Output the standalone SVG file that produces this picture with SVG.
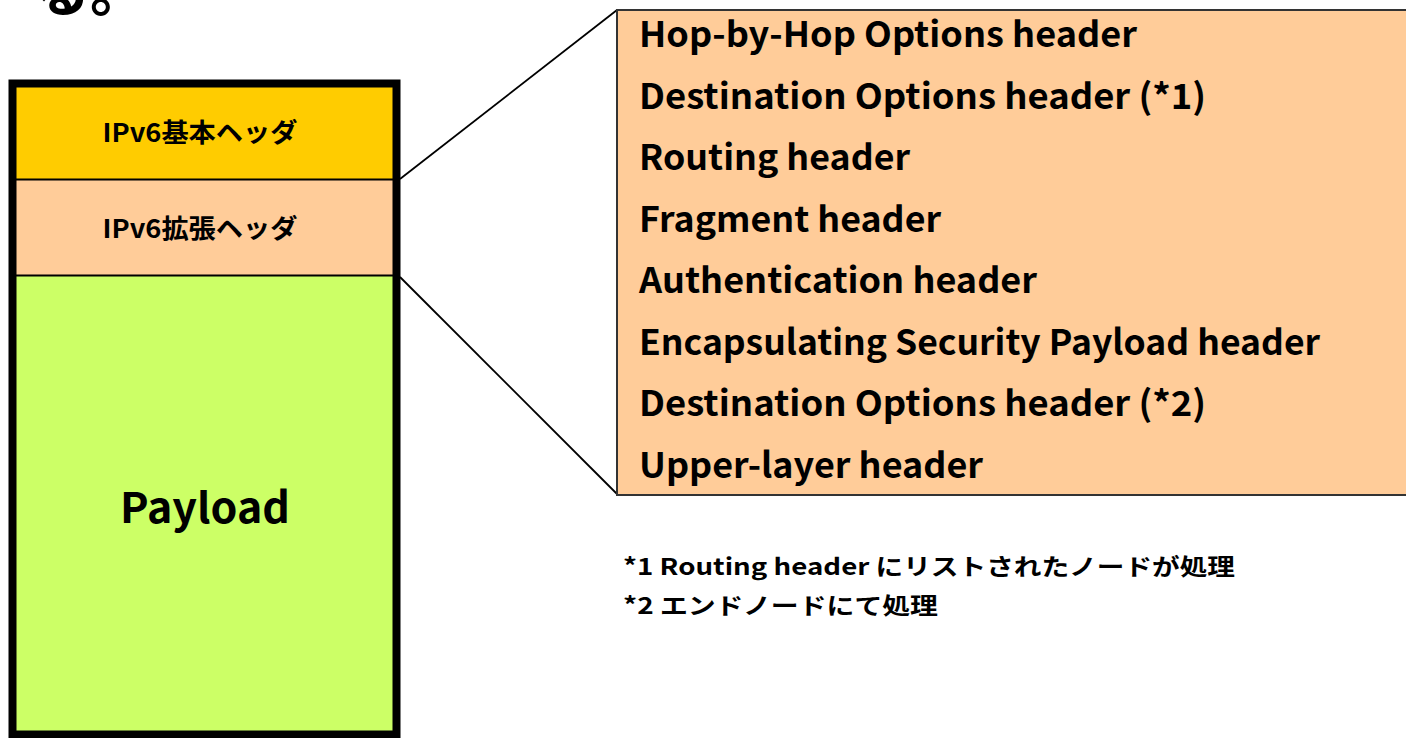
<svg xmlns="http://www.w3.org/2000/svg" width="1406" height="738" viewBox="0 0 1406 738">
<style>
.t{font-family:"Noto Sans CJK JP","Liberation Sans",sans-serif;font-weight:bold;fill:#000}
.h{font-size:35px}
.f{font-size:23px}
.lbl{font-size:26px}
.cn{stroke:#000;stroke-width:1.8;fill:none}
</style>
<rect width="1406" height="738" fill="#fff"/>
<text class="t" x="34" y="11" font-size="56">る。</text>
<g id="stack">
<rect x="16" y="87" width="377" height="92" fill="#FFCC00"/>
<rect x="16" y="179" width="377" height="96" fill="#FFCC99"/>
<rect x="16" y="275" width="377" height="463" fill="#CCFF66"/>
<line x1="16" y1="179.5" x2="393" y2="179.5" stroke="#000" stroke-width="2"/>
<line x1="16" y1="275.5" x2="393" y2="275.5" stroke="#000" stroke-width="2"/>
<rect x="12.5" y="83.5" width="384" height="651" fill="none" stroke="#000" stroke-width="8"/>
</g>
<g id="basic"><text class="t lbl" x="200" y="142" text-anchor="middle" textLength="195" lengthAdjust="spacingAndGlyphs">IPv6基本ヘッダ</text></g>
<g id="ext"><text class="t lbl" x="200" y="238" text-anchor="middle" textLength="195" lengthAdjust="spacingAndGlyphs">IPv6拡張ヘッダ</text></g>
<g id="payload"><text class="t" font-size="42" x="205" y="523" text-anchor="middle" textLength="170" lengthAdjust="spacingAndGlyphs">Payload</text></g>
<g id="connectors">
<line class="cn" x1="400" y1="179" x2="617" y2="10"/>
<line class="cn" x1="400" y1="277" x2="617" y2="494"/>
</g>
<g id="headers">
<rect x="617" y="10" width="800" height="485" fill="#FFCC99" stroke="#333" stroke-width="2"/>
<text class="t h" x="639" y="47" textLength="498" lengthAdjust="spacingAndGlyphs">Hop-by-Hop Options header</text>
<text class="t h" x="639" y="108.5" textLength="567" lengthAdjust="spacingAndGlyphs">Destination Options header (*1)</text>
<text class="t h" x="639" y="170" textLength="271" lengthAdjust="spacingAndGlyphs">Routing header</text>
<text class="t h" x="639" y="231.5" textLength="302" lengthAdjust="spacingAndGlyphs">Fragment header</text>
<text class="t h" x="639" y="293" textLength="398" lengthAdjust="spacingAndGlyphs">Authentication header</text>
<text class="t h" x="639" y="354.5" textLength="681" lengthAdjust="spacingAndGlyphs">Encapsulating Security Payload header</text>
<text class="t h" x="639" y="416" textLength="567" lengthAdjust="spacingAndGlyphs">Destination Options header (*2)</text>
<text class="t h" x="639" y="477.5" textLength="344" lengthAdjust="spacingAndGlyphs">Upper-layer header</text>
</g>
<g id="notes">
<text class="t f" x="623" y="575" textLength="612" lengthAdjust="spacingAndGlyphs">*1 Routing header にリストされたノードが処理</text>
<text class="t f" x="623" y="614" textLength="315" lengthAdjust="spacingAndGlyphs">*2 エンドノードにて処理</text>
</g>
</svg>
